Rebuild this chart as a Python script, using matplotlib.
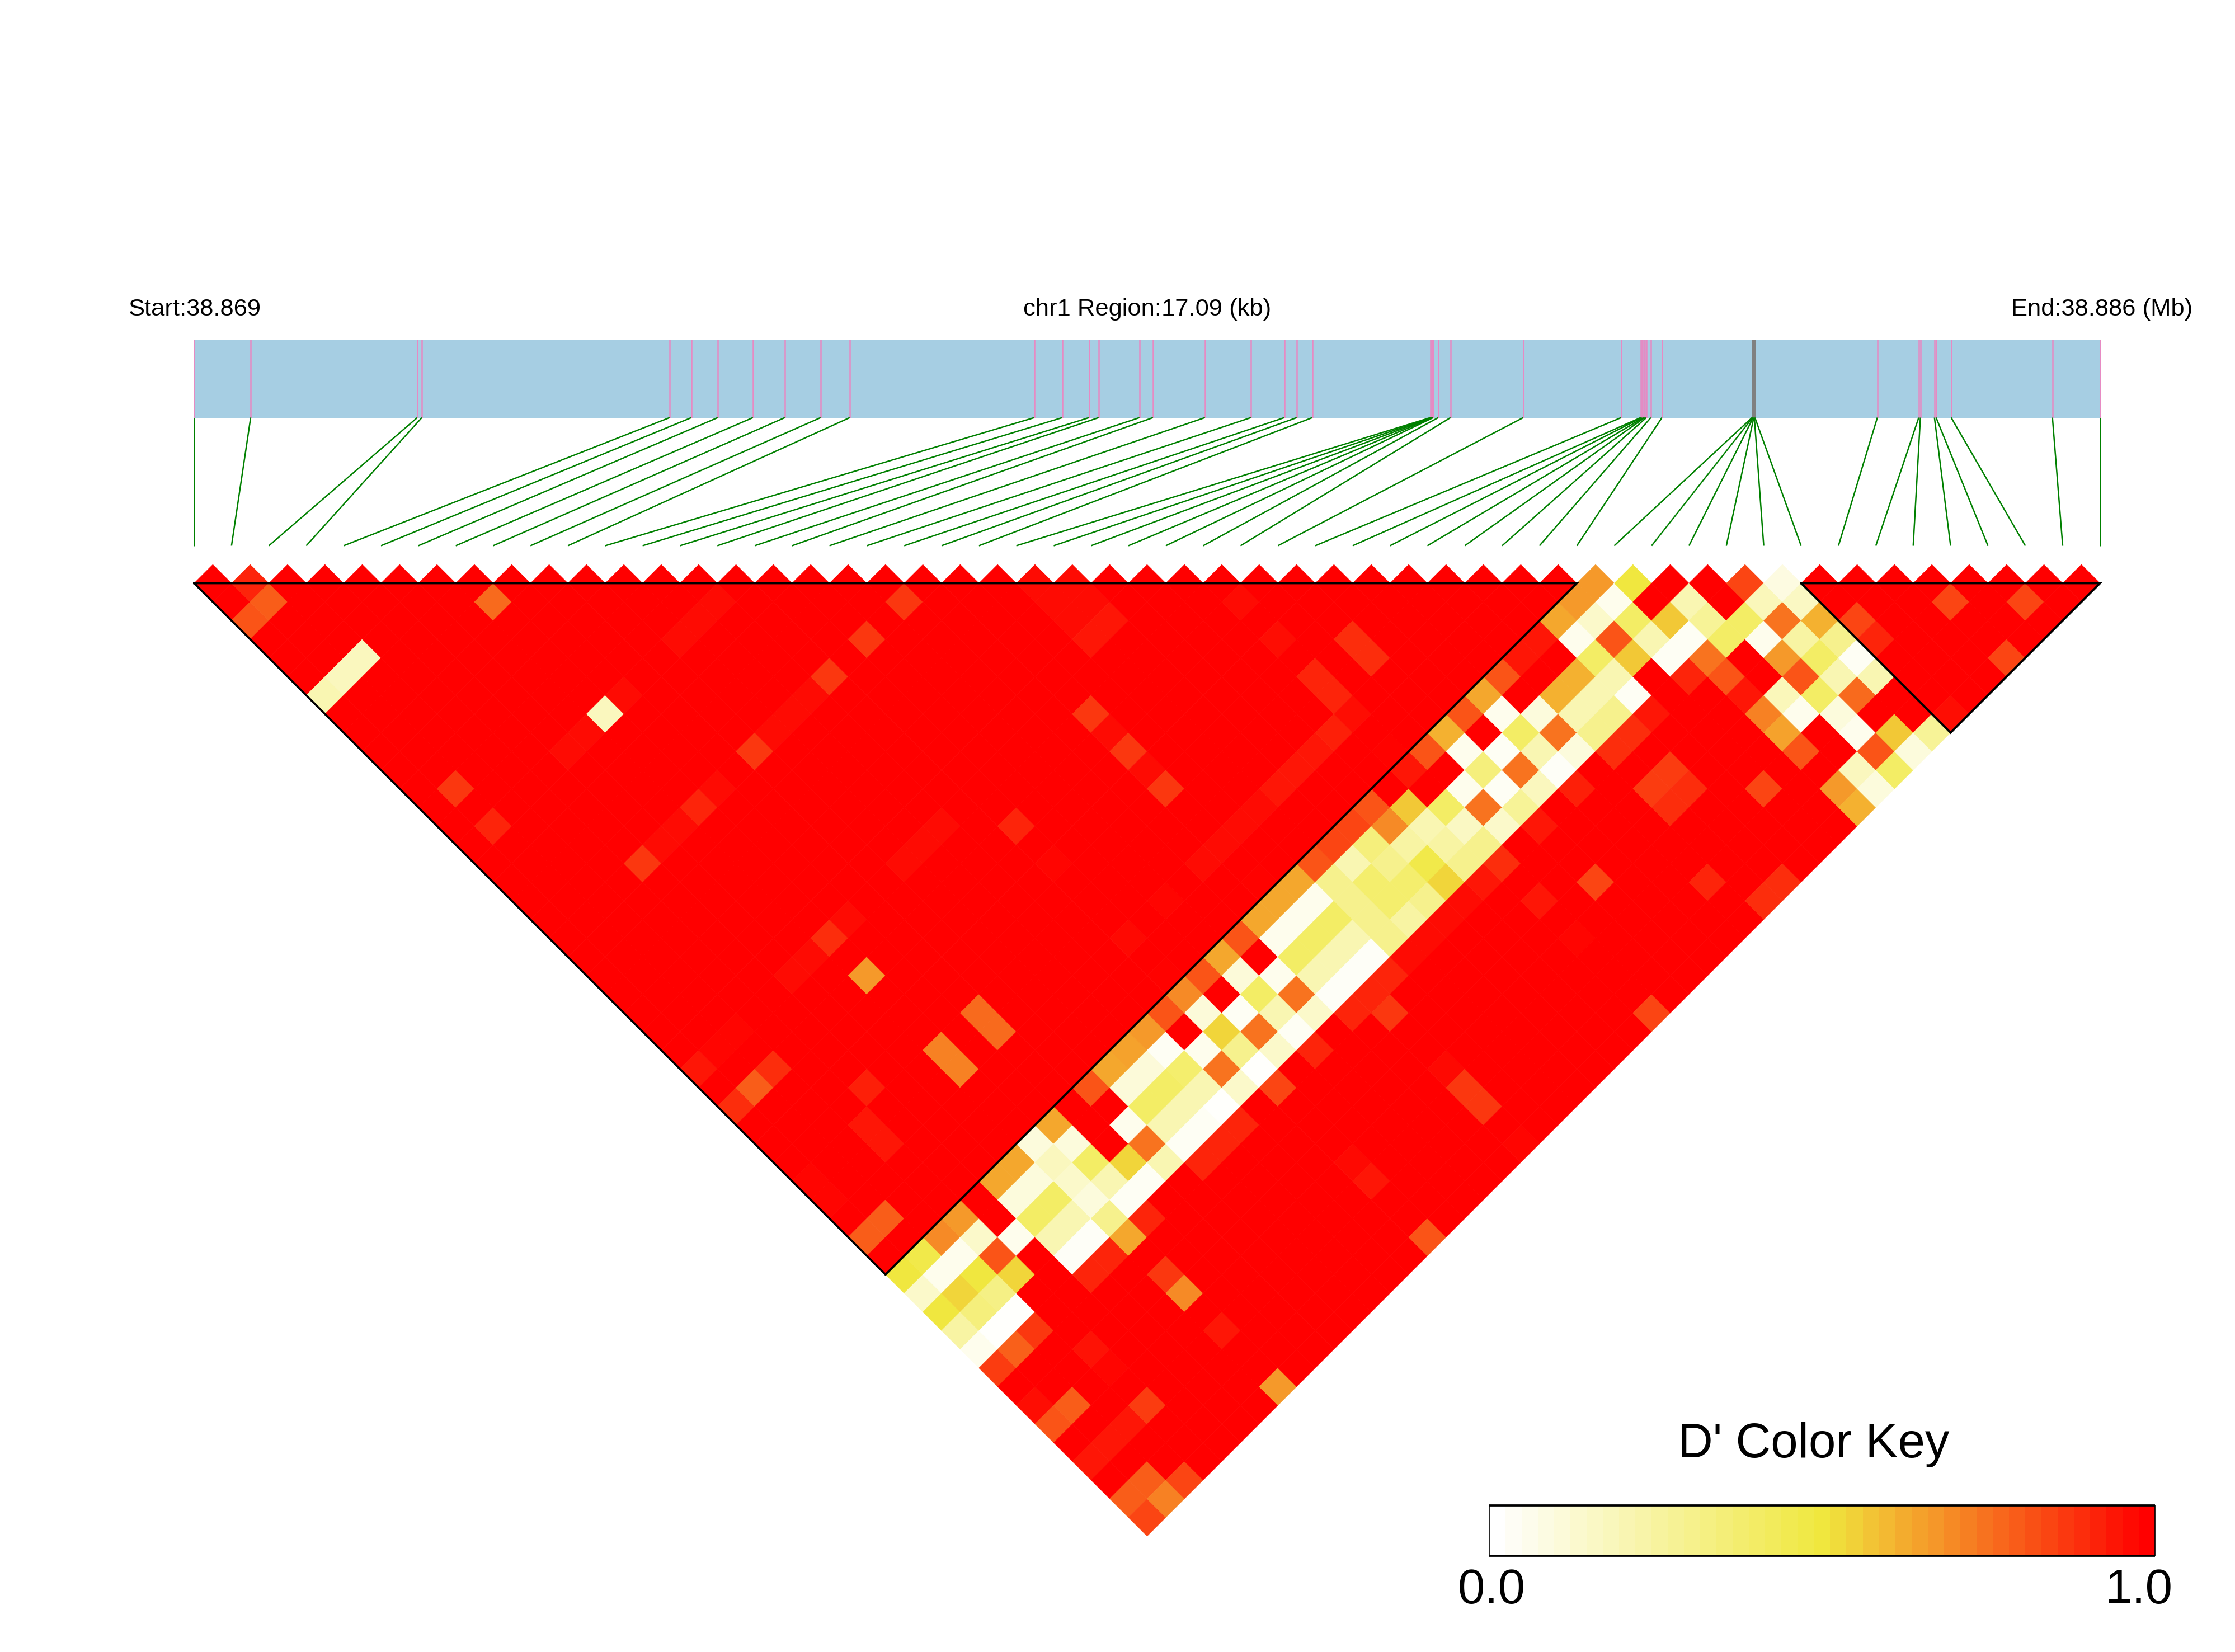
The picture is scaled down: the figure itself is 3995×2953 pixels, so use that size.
import numpy as np
import matplotlib
matplotlib.use('Agg')
import matplotlib.pyplot as plt
from matplotlib.collections import PolyCollection
from matplotlib.colors import LinearSegmentedColormap

plt.rcParams['font.family'] = ['Liberation Sans', 'DejaVu Sans']

# SNP positions along the region, kb from the start
snp_kb = [0, .507, 2.001, 2.042, 4.264, 4.459, 4.695, 5.011, 5.297, 5.618, 5.879,
          7.534, 7.785, 8.025, 8.111, 8.477, 8.598, 9.064, 9.476, 9.776, 9.887, 10.027,
          11.086, 11.096, 11.101, 11.106, 11.111, 11.156, 11.266, 11.918, 12.796,
          12.971, 12.981, 12.997, 13.007, 13.022, 13.062, 13.162,
          13.970, 13.975, 13.980, 13.985, 13.990, 13.995,
          15.093, 15.464, 15.479, 15.605, 15.620, 15.755, 16.663, 17.09]
region_kb = 17.09
grey_ticks = [38, 39, 40, 41, 42, 43]

# D' for the weakly linked columns, one value for each row a = 0..36
col_b37 = [.5, .47, .7, .67, 1, .64, .64, .09, .64, 1, .82, .64, .65, .67, .82, .7, .82, .64, .82,
           .64, .64, .64, .82, .85, .85, .82, 1, .95, .82, .62, .82, .64, .82, .95, .95, .64, .67]
col_b38 = [.14, .05, .05, .14, 1, .09, .09, .17, .09, 1, 1, .1, .1, .03, 1, .1, 1, .1, 1,
           .05, .05, .05, .3, .2, .34, .7, .57, 1, 1, .05, 1, .05, 1, 1, 1, .05, .14]
col_b39 = [.5, .54, .5, .82, .05, .4, .4, .14, .4, 1, .05, .4, .4, .38, .05, .54, .03, .4, .05,
           .4, .4, .4, .3, .38, .3, .24, .2, .4, .05, .34, .03, .4, .09, .62, .62, .4, .82]
col_b40 = [.24, .34, .32, .54, 1, .2, .2, .09, .2, .54, .75, .2, .2, .2, .75, .3, .75, .2, .75,
           .2, .2, .2, .3, .38, .38, .47, .24, .16, .75, .03, .75, .2, .75, .2, .2, .2, .57]
col_b41 = [.05, .01, .01, 1, 1, .02, .02, .3, .03, .03, .2, .03, .03, .01, .14, .01, .14, .03, .14,
           .02, .02, .02, .3, .24, .3, .54, .3, .3, .14, .27, .17, .02, .09, .3, .3, .03, 1]
col_b42 = [.87, .79, .88, 1, 1, .92, .92, .64, .92, 1, 1, .92, .92, .92, 1, .85, 1, .92, 1,
           .92, .92, .92, .975, .975, .975, .975, .95, .9, 1, .95, 1, .93, 1, .9, .9, .95, 1]

# rows a = 37..42, from the diagonal out to b = 50
row_a37 = [.67, .05, .4, .2, .03, .92, 1, 1, 1, 1, 1, 1, 1, 1]
row_a38 = [.5, 1, .57, .03, .75, .82, .95, .72, .65, .82, 1, .67, .62]
row_a39 = [1, .2, .27, .4, 1, 1, .18, .05, 1, 1, .17, .09]
row_a40 = [1, 1, .4, .05, .67, .82, .4, .09, .05, .82, .4]
row_a41 = [.85, .18, .75, .24, .4, .2, .77, 1, .57, .09]
row_a42 = [.08, .16, .62, .3, .03, .2, 1, 1, .27]

# everything else is 1.0 except these (a, b, D')
block1_cells = [(1, 1, .92), (1, 2, .8), (0, 2, .82), (7, 8, .77), (13, 14, .975), (12, 14, .975),
                (11, 14, .975), (2, 6, .17), (1, 6, .17), (0, 6, .2), (7, 14, .17), (8, 14, .975),
                (6, 14, .975), (5, 14, .975), (1, 12, .88), (1, 14, .92), (10, 19, .88),
                (11, 19, .975), (12, 19, .975), (13, 19, .975), (8, 19, .975), (7, 19, .92),
                (6, 19, .975), (5, 19, .975), (4, 19, .88), (18, 19, .88), (16, 19, .88),
                (14, 19, .88), (22, 22, .975), (22, 23, .975), (22, 24, .975), (23, 23, .975),
                (23, 24, .975), (23, 25, .95), (22, 25, .95), (27, 28, .975), (27, 30, .97),
                (29, 32, .9), (29, 33, .9), (27, 32, .92), (27, 33, .92), (27, 34, .97),
                (26, 34, .93), (25, 34, .95), (24, 34, .95), (23, 34, .95), (22, 34, .975),
                (21, 34, .975), (20, 34, .975), (19, 34, .975), (20, 27, .88), (20, 28, .975),
                (20, 29, .88), (20, 30, .975), (20, 31, .88), (15, 28, .92), (13, 26, .975),
                (12, 26, .975), (11, 26, .975), (15, 30, .985), (17, 34, .985), (15, 34, .98),
                (20, 36, .995), (27, 36, .995), (15, 36, .995), (8, 26, .975), (7, 26, .9),
                (6, 26, .975), (5, 26, .975), (7, 28, .67), (9, 32, .77), (9, 33, .77),
                (7, 32, .72), (7, 33, .72), (2, 26, .985), (1, 26, .985), (0, 26, .95),
                (2, 28, .9), (1, 28, .8), (0, 28, .9), (4, 31, .93), (3, 32, .95), (3, 33, .95),
                (0, 32, .985), (0, 33, .985), (1, 35, .8), (0, 35, .8)]
right_cells = [(36, 47, .85), (34, 44, .87), (33, 44, .87), (34, 45, .9), (33, 45, .9),
               (29, 45, .85), (32, 48, .92), (27, 44, .95), (27, 46, .985), (27, 50, .85),
               (20, 43, .88), (34, 50, .9), (33, 50, .9), (20, 46, .98), (20, 47, .88),
               (20, 48, .88), (20, 50, .985), (15, 46, .98), (15, 47, .95), (15, 50, .82),
               (7, 44, .88), (7, 45, .7), (7, 47, .95), (7, 50, .67), (3, 44, .96), (3, 45, .985),
               (3, 47, .87), (2, 47, .95), (1, 47, .95), (0, 47, .95), (0, 44, .97), (0, 45, .82),
               (1, 45, .8), (0, 49, .8), (1, 49, .8), (1, 50, .72), (2, 50, .85), (0, 50, .85)]
block2_cells = [(43, 45, .85), (43, 46, .92), (43, 50, .97), (46, 47, .85), (48, 49, .85), (46, 50, .85)]

# LD blocks as first / last SNP
blocks = [(0, 37), (43, 51)]

# colour key
key_steps = 41
key_labels = ['0.0', '1.0']

W, H = 3995, 2953
X0 = 347.0
CELL = 66.8
Y_TOP = 1042.5
BAR_TOP, BAR_BOTTOM = 608, 746.5
LINE_BOTTOM = 975.5

cmap = LinearSegmentedColormap.from_list('ld', ['white', '#F0E83F', 'red'])


def build_matrix():
    n = len(snp_kb) - 1
    d = np.full((n, n), np.nan)
    for a in range(n):
        d[a, a:] = 1.0
    for b, col in zip(range(37, 43), [col_b37, col_b38, col_b39, col_b40, col_b41, col_b42]):
        d[:37, b] = col
    for a, row in zip(range(37, 43), [row_a37, row_a38, row_a39, row_a40, row_a41, row_a42]):
        d[a, a:] = row
    for a, b, v in block1_cells + right_cells + block2_cells:
        d[a, b] = v
    return d


def snp_x(k):
    return X0 + CELL * k


def main():
    fig = plt.figure(figsize=(W / 300, H / 300), dpi=300)
    ax = fig.add_axes([0, 0, 1, 1])
    ax.set_xlim(0, W)
    ax.set_ylim(H, 0)
    ax.axis('off')

    # gene bar with the SNP ticks and the links down to the heatmap
    px_per_kb = (snp_x(len(snp_kb) - 1) - X0) / region_kb
    tops = [X0 + p * px_per_kb for p in snp_kb]
    ax.fill_between([X0, snp_x(len(snp_kb) - 1)], BAR_TOP, BAR_BOTTOM, color='#A6CEE3', lw=0)
    tick_colors = ['#808080' if k in grey_ticks else '#E78AC3' for k in range(len(tops))]
    ax.vlines(tops, BAR_TOP - 1, BAR_BOTTOM, colors=tick_colors, lw=0.6)
    for k, x in enumerate(tops):
        ax.plot([x, snp_x(k)], [BAR_BOTTOM, LINE_BOTTOM], color='#008000', lw=0.6,
                solid_capstyle='butt')

    # rotated heatmap, every cell a diamond
    d = build_matrix()
    verts, vals = [], []
    for a in range(d.shape[0]):
        for b in range(a, d.shape[1]):
            cx = X0 + (a + b + 1) * CELL / 2
            cy = Y_TOP + (b - a) * CELL / 2
            h = CELL / 2
            verts.append([(cx, cy - h), (cx + h, cy), (cx, cy + h), (cx - h, cy)])
            vals.append(d[a, b])
    cells = PolyCollection(verts, array=np.array(vals), cmap=cmap, clim=(0, 1),
                           edgecolors='face', linewidths=0.15)
    ax.add_collection(cells)

    for first, last in blocks:
        xa, xb = snp_x(first), snp_x(last)
        ax.plot([xa, xb, (xa + xb) / 2, xa], [Y_TOP, Y_TOP, Y_TOP + (xb - xa) / 2, Y_TOP],
                color='black', lw=0.9, solid_joinstyle='miter')

    # region labels
    ax.text(229, 564, 'Start:38.869', fontsize=10.45, ha='left', va='baseline')
    ax.text(2051, 564, 'chr1 Region:17.09 (kb)', fontsize=10.45, ha='center', va='baseline')
    ax.text(3919, 564, 'End:38.886 (Mb)', fontsize=10.45, ha='right', va='baseline')

    # colour key
    kx0, kx1, ky0, ky1 = 2662, 3852, 2691, 2781
    grid = np.linspace(0, 1, key_steps)[None, :]
    ax.imshow(grid, cmap=cmap, vmin=0, vmax=1, extent=(kx0, kx1, ky1, ky0), aspect='auto',
              interpolation='nearest', zorder=2)
    ax.set_xlim(0, W)
    ax.set_ylim(H, 0)
    ax.hlines([ky0, ky1], kx0, kx1, color='black', lw=0.9, zorder=3)
    ax.vlines([kx0, kx1], ky0, ky1, color='black', lw=0.4, zorder=3)
    ax.text(3242, 2605, "D' Color Key", fontsize=20.9, ha='center', va='baseline')
    ax.text(2666, 2866, key_labels[0], fontsize=20.9, ha='center', va='baseline')
    ax.text(3823, 2866, key_labels[1], fontsize=20.9, ha='center', va='baseline')

    fig.savefig('out.png', dpi=300, facecolor='white')
    plt.close(fig)


if __name__ == '__main__':
    main()
